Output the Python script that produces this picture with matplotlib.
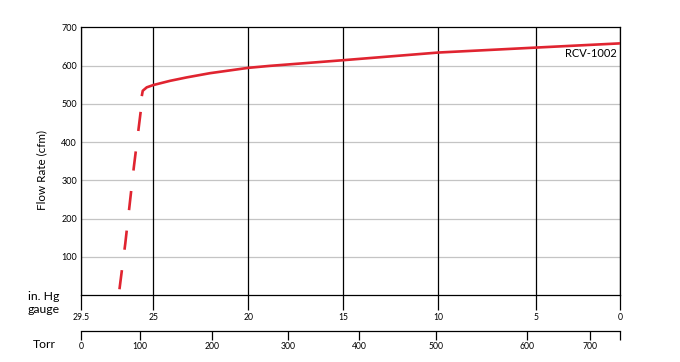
import numpy as np
import matplotlib
matplotlib.use("Agg")
import matplotlib.pyplot as plt

plt.rcParams['font.family'] = ['Lato', 'DejaVu Sans']

# --- data ---
# solid part of the RCV-1002 curve (in. Hg gauge, cfm)
solid_gauge = [25.72, 25.66, 25.41, 25.00, 24.12, 23.24, 22.02, 20.00, 18.90, 15.00, 12.00, 10.00, 5.00, 0.00]
solid_flow = [520, 534, 543, 549, 560, 569, 580, 594, 599, 614, 626, 634, 647, 658]
# dashed part (extrapolated down to zero flow)
dash_gauge = [25.72, 25.79, 26.22, 26.75, 27.16]
dash_flow = [525, 479, 333, 135, 0]

gauge_ticks = [29.5, 25, 20, 15, 10, 5, 0]
gauge_labels = ['29.5', '25', '20', '15', '10', '5', '0']
torr_ticks = [0, 100, 200, 300, 400, 500, 600, 700, 760]
torr_labels = ['0', '100', '200', '300', '400', '500', '600', '700', '']
flow_ticks = [100, 200, 300, 400, 500, 600, 700]

# the printed axes are not linear, so both use a piecewise scale
# (gauge distance measured from the right edge, so the scale is increasing)
g_knots = np.array([0, 5, 10, 15, 20, 25, 29.5])
g_pos = np.array([0.0, 84.0, 182.0, 277.0, 372.0, 467.0, 539.0])
t_knots = np.array([0, 100, 200, 300, 400, 500, 600, 700, 760])
t_pos = np.array([0.0, 58.7, 131.0, 206.7, 278.0, 355.0, 446.0, 509.0, 539.0])


def g_fwd(x):
    return np.interp(x, g_knots, g_pos)


def g_inv(p):
    return np.interp(p, g_pos, g_knots)


def t_fwd(x):
    return np.interp(x, t_knots, t_pos)


def t_inv(p):
    return np.interp(p, t_pos, t_knots)


W, H = 680, 362
fig = plt.figure(figsize=(W / 100, H / 100), dpi=100)
left, right, top, bottom = 81.3, 620.3, 27.3, 295.0
ax = fig.add_axes([left / W, 1 - bottom / H, (right - left) / W, (bottom - top) / H])
ax.set_xscale('function', functions=(g_fwd, g_inv))
ax.set_xlim(29.5, 0)
ax.set_ylim(0, 700)

red = '#e02430'
ax.plot(solid_gauge, solid_flow, color=red, lw=1.9, solid_capstyle='butt',
        solid_joinstyle='round', zorder=3)
ax.plot(dash_gauge, dash_flow, color=red, lw=1.9, linestyle=(8.4, (7.3, 7.8)), zorder=3)

ax.set_axisbelow(True)
for y in flow_ticks[:-1]:
    ax.axhline(y, color='#c4c4c4', lw=0.9, zorder=1)
for g in gauge_ticks:
    ax.axvline(g, color='black', lw=0.9, zorder=2)

ax.set_xticks(gauge_ticks)
ax.set_xticklabels(gauge_labels)
ax.set_yticks(flow_ticks)
ax.tick_params(axis='x', direction='out', length=10.8, width=0.9, pad=2,
               labelsize=6.2, colors='black')
ax.tick_params(axis='y', length=0, pad=3, labelsize=6.5)
for s in ax.spines.values():
    s.set_linewidth(0.9)

ax.text(0.993, 631, 'RCV-1002', transform=ax.get_yaxis_transform(),
        ha='right', va='center', fontsize=8)

fig.text(42 / W, 1 - 170 / H, 'Flow Rate (cfm)', rotation=90, ha='center', va='center',
         fontsize=8.4)
fig.text(28 / W, 1 - 303 / H, 'in. Hg\ngauge', ha='left', va='center', fontsize=8.8,
         linespacing=1.15)
fig.text(33 / W, 1 - 345 / H, 'Torr', ha='left', va='center', fontsize=8.8)

# Torr axis below
tax = fig.add_axes([left / W, 1 - 331 / H, (right - left) / W, 0.0001])
tax.set_xscale('function', functions=(t_fwd, t_inv))
tax.set_xlim(0, 760)
tax.patch.set_visible(False)
for k in ['top', 'left', 'right']:
    tax.spines[k].set_visible(False)
tax.spines['bottom'].set_linewidth(0.9)
tax.set_yticks([])
tax.set_xticks(torr_ticks)
tax.set_xticklabels(torr_labels)
tax.tick_params(axis='x', direction='out', length=6.5, width=0.9, pad=1.2, labelsize=6.2)

fig.savefig('out.png', dpi=100)
